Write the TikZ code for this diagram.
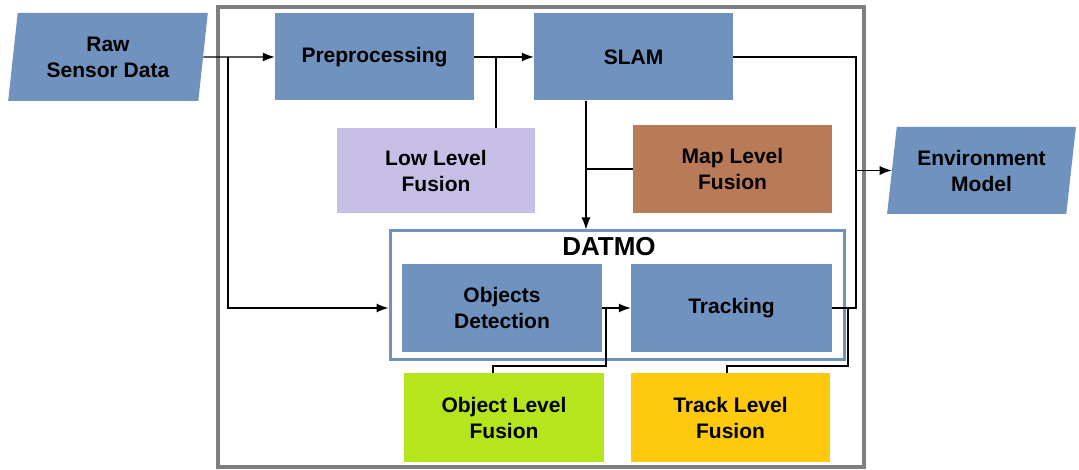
\documentclass[tikz,border=0pt]{standalone}
\usepackage{fontspec}
\setmainfont{Liberation Sans}
\usepackage{tikz}
\usetikzlibrary{positioning}
\usetikzlibrary{arrows.meta}
\usetikzlibrary{shapes.geometric}

\definecolor{boxblue}{HTML}{7092BE}
\definecolor{lowcol}{HTML}{C8BFE7}
\definecolor{mapcol}{HTML}{B97A57}
\definecolor{objcol}{HTML}{B5E61D}
\definecolor{trkcol}{HTML}{FFC90E}
\definecolor{framegray}{HTML}{7F7F7F}

\begin{document}
\begin{tikzpicture}[x=1pt,y=-1pt,
    >={Latex[length=12pt,width=9pt]},
    label font/.style={font=\bfseries\fontsize{21}{26}\selectfont, align=center},
    block/.style={rectangle, fill=boxblue, inner sep=0pt, minimum width=199pt, minimum height=87pt, label font},
    fusion/.style={block, minimum height=88pt},
    data/.style={trapezium, trapezium stretches=true, fill=boxblue, inner sep=0pt, label font},
    wire/.style={line width=1.2pt}]
  \useasboundingbox (0,0) rectangle (1079,470);
  % system frame
  \draw[framegray, line width=3.5pt] (218,7) rectangle (864,467);
  % inputs and outputs
  \node[data, trapezium left angle=81, trapezium right angle=99, minimum width=200pt, minimum height=88pt] (raw) at (108,57) {Raw\\Sensor Data};
  \node[data, trapezium left angle=80, trapezium right angle=100, minimum width=189pt, minimum height=87pt] (env) at (981.5,170.5) {Environment\\Model};
  % processing blocks
  \node[block] (prep) at (374.5,57) {Preprocessing};
  \node[block] (slam) at (633.5,57) {SLAM};
  \node[draw=boxblue, line width=3pt, minimum width=454pt, minimum height=128pt, inner sep=0pt] (datmo) at (617,295) {};
  \node[font=\bfseries\fontsize{26}{30}\selectfont] (datmotitle) at (609,247) {DATMO};
  \node[block, minimum width=200pt, minimum height=88pt] (det) at (502,308) {Objects\\Detection};
  \node[block, minimum width=201pt, minimum height=88pt] (trk) at (731.5,308) {Tracking};
  % fusion levels
  \node[fusion, fill=lowcol, minimum width=198pt, minimum height=85pt] (low) at (436,170.5) {Low Level\\Fusion};
  \node[fusion, fill=mapcol] (map) at (732.5,169) {Map Level\\Fusion};
  \node[fusion, fill=objcol, minimum width=200pt, minimum height=89pt] (olf) at (504,417.5) {Object Level\\Fusion};
  \node[fusion, fill=trkcol, minimum height=89pt] (tlf) at (730.5,417.5) {Track Level\\Fusion};
  % junctions
  \coordinate (split) at (228,57);
  \coordinate (lowj) at (496,57);
  \coordinate (slamj) at (586,57);
  \coordinate (detj) at (606,308);
  \coordinate (olfj) at (493,366);
  \coordinate (trkj) at (848,308);
  \coordinate (tlfj) at (727,366);
  \coordinate (bus) at (856,57);
  % connectors
  \draw[wire, ->] (raw.east) -- (prep.west);
  \draw[wire, ->] (split) |- (datmo.west |- det);
  \draw[wire, ->] (prep.east) -- (slam.west);
  \draw[wire] (lowj) -- (lowj |- low.north);
  \draw[wire, ->] (slamj |- slam.south) -- (slamj |- datmo.north);
  \draw[wire] (map.west) -- (map.west -| slamj);
  \draw[wire, ->] (det.east) -- (trk.west);
  \draw[wire] (detj) |- (olfj) -- (olfj |- olf.north);
  \draw[wire] (trk.east) -| (bus) -- (slam.east);
  \draw[wire] (trkj) |- (tlfj) -- (tlfj |- tlf.north);
  \draw[wire, ->] (env.west -| bus) -- (env.west);
\end{tikzpicture}
\end{document}
